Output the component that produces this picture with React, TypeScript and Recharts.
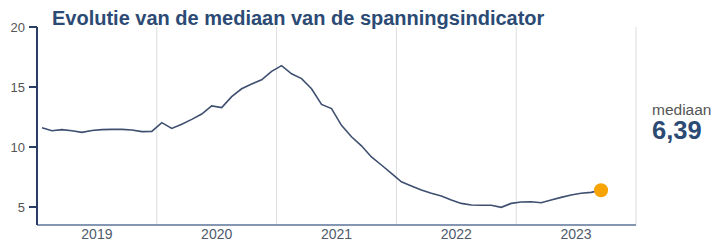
import React from "react";
import { LineChart, Line, XAxis, YAxis, ReferenceLine } from "recharts";

// monthly median values, Jan 2019 .. Sep 2023
const values2019 = [11.6, 11.35, 11.45, 11.35, 11.22, 11.38, 11.45, 11.47, 11.47, 11.42, 11.28, 11.3];
const values2020 = [12.03, 11.55, 11.9, 12.3, 12.75, 13.42, 13.28, 14.2, 14.85, 15.25, 15.6, 16.3];
const values2021 = [16.78, 16.1, 15.7, 14.85, 13.55, 13.2, 11.8, 10.85, 10.1, 9.17, 8.5, 7.8];
const values2022 = [7.1, 6.75, 6.42, 6.14, 5.92, 5.58, 5.3, 5.17, 5.14, 5.14, 4.97, 5.3];
const values2023 = [5.42, 5.44, 5.36, 5.58, 5.8, 6.0, 6.14, 6.22, 6.39];

const years = [2019, 2020, 2021, 2022, 2023];
const yTicks = [5, 10, 15, 20];
const title = "Evolutie van de mediaan van de spanningsindicator";
const sideLabel = "mediaan";
const sideValue = "6,39";

const allValues = [...values2019, ...values2020, ...values2021, ...values2022, ...values2023];
const data = allValues.map((v, i) => ({ m: i + 0.5, v }));
const lastIndex = data.length - 1;

const yearCenters = years.map((_, i) => i * 12 + 6);
const yearBounds = years.map((_, i) => (i + 1) * 12);

const font = "'Liberation Sans', Arial, sans-serif";

const renderDot = (props: any) => {
  const { cx, cy, index } = props;
  if (index !== lastIndex) return <g key={`d${index}`} />;
  return <circle key={`d${index}`} cx={cx} cy={cy} r={7} fill="#f7a300" stroke="none" />;
};

export default function App() {
  return (
    <div style={{ position: "absolute", left: 0, top: 0, width: 721, height: 244, background: "#fff", fontFamily: font }}>
      <LineChart
        width={721}
        height={244}
        data={data}
        margin={{ top: 27, right: 85, bottom: 0, left: 0 }}
      >
        {yearBounds.map((b) => (
          <ReferenceLine key={b} x={b} stroke="#dcdcdc" strokeWidth={1} />
        ))}
        <XAxis
          dataKey="m"
          type="number"
          domain={[0, 60]}
          ticks={yearCenters}
          tickFormatter={(t: number) => String(years[Math.floor(t / 12)])}
          tickLine={false}
          tickSize={0}
          tickMargin={4}
          height={19}
          axisLine={{ stroke: "#5b7397", strokeWidth: 1.5 }}
          tick={{ fill: "#4f5a6b", fontSize: 14, fontFamily: font }}
          interval={0}
        />
        <YAxis
          type="number"
          domain={[3.5, 20]}
          ticks={yTicks}
          width={37}
          tickSize={8}
          tickMargin={4}
          axisLine={{ stroke: "#2b3f66", strokeWidth: 2 }}
          tickLine={{ stroke: "#2b3f66", strokeWidth: 2 }}
          tick={{ fill: "#555", fontSize: 13, fontFamily: font }}
          allowDataOverflow
        />
        <Line
          type="linear"
          dataKey="v"
          stroke="#3e4f70"
          strokeWidth={1.6}
          dot={renderDot}
          activeDot={false}
          isAnimationActive={false}
        />
      </LineChart>
      <div style={{ position: "absolute", left: 52, top: 8, fontSize: 20, lineHeight: "20px", fontWeight: "bold", color: "#2b4a74", whiteSpace: "nowrap" }}>
        {title}
      </div>
      <div style={{ position: "absolute", left: 652, top: 102, fontSize: 15.5, lineHeight: "15px", color: "#555", whiteSpace: "nowrap" }}>
        {sideLabel}
      </div>
      <div style={{ position: "absolute", left: 652, top: 118, fontSize: 25.5, lineHeight: "24px", fontWeight: "bold", color: "#2b4a74", whiteSpace: "nowrap" }}>
        {sideValue}
      </div>
    </div>
  );
}
